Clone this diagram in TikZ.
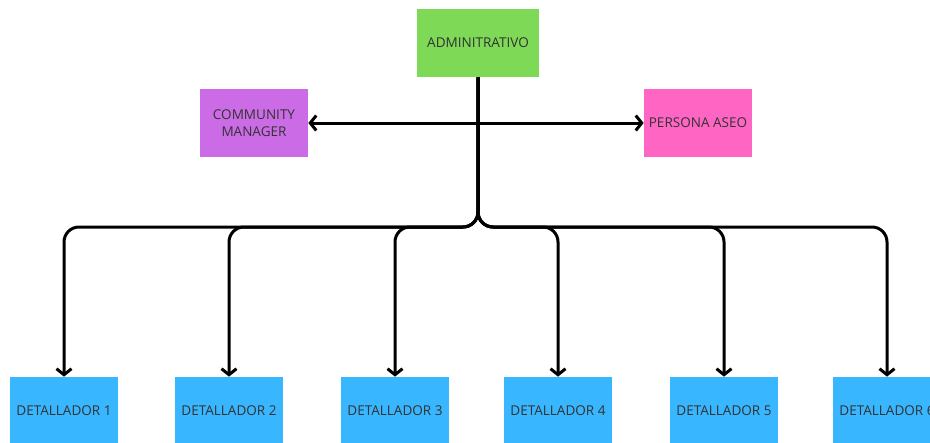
\documentclass[tikz,border=0pt]{standalone}
\usepackage{fontspec}
\setmainfont{Open Sans}
\usetikzlibrary{positioning,arrows.meta}

\definecolor{adminc}{HTML}{7ED957}
\definecolor{cmc}{HTML}{CB6CE6}
\definecolor{aseoc}{HTML}{FF66C4}
\definecolor{detc}{HTML}{38B6FF}

\begin{document}
\begin{tikzpicture}[x=0.02cm,y=-0.02cm,
	every node/.style={draw=none,minimum width=2.16cm,minimum height=1.36cm,inner sep=1pt,align=center,text=black!80,font=\fontsize{7.7}{9.6}\selectfont},
	conn/.style={line width=0.06cm,rounded corners=0.3cm,-{Straight Barb[length=0.12cm,width=0.3cm]}}]

\useasboundingbox (0,0) rectangle (930,443);

\node[fill=adminc,minimum width=2.44cm] (admin) at (478,43) {ADMINITRATIVO};
\node[fill=cmc] (cm) at (254,123) {COMMUNITY\\MANAGER};
\node[fill=aseoc] (aseo) at (698,123) {PERSONA ASEO};

\coordinate (junc) at (478,227);

\foreach[count=\c] \x in {64,229,395,558,724,887}
	\node[fill=detc] (d\c) at (\x,411) {DETALLADOR \c};

\draw[conn,{Straight Barb[length=0.12cm,width=0.3cm]}-{Straight Barb[length=0.12cm,width=0.3cm]}] (cm) -- (aseo);

\foreach \c in {1,...,6}
	\draw[conn] (admin.south) -- (junc) -| (d\c.north);

\end{tikzpicture}
\end{document}
